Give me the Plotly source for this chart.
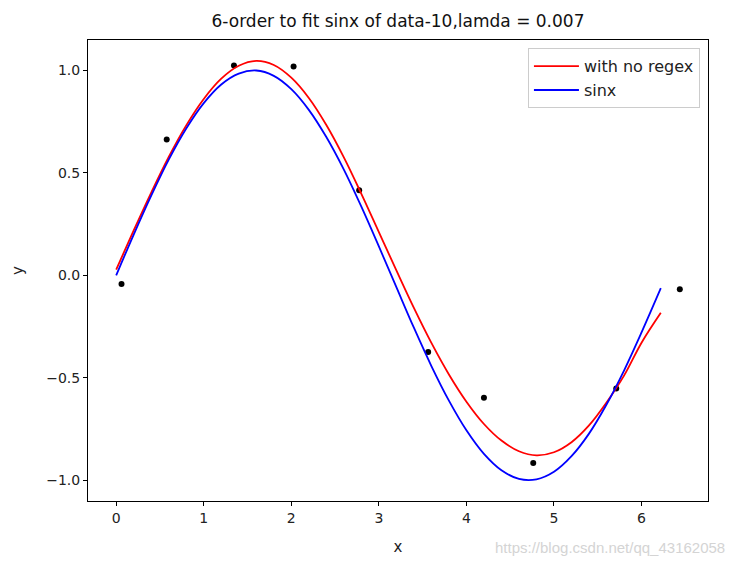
import plotly.graph_objects as go

# Curve sample positions
curve_x = [0.0, 0.2, 0.4, 0.6, 0.8, 1.0, 1.2, 1.4, 1.6, 1.8, 2.0, 2.2, 2.4, 2.6,
           2.8, 3.0, 3.2, 3.4, 3.6, 3.8, 4.0, 4.2, 4.4, 4.6, 4.8, 5.0, 5.2, 5.4,
           5.6, 5.8, 6.0, 6.22]
# red fitted curve ("with no regex")
fit_y = [0.028, 0.219, 0.404, 0.578, 0.732, 0.861, 0.960, 1.023, 1.047, 1.027,
         0.965, 0.866, 0.734, 0.576, 0.398, 0.211, 0.024, -0.159, -0.330, -0.484,
         -0.617, -0.726, -0.807, -0.859, -0.879, -0.864, -0.815, -0.733, -0.621,
         -0.490, -0.329, -0.183]
# blue curve ("sinx")
sin_y = [0.000, 0.199, 0.389, 0.565, 0.717, 0.841, 0.932, 0.985, 1.000, 0.974,
         0.909, 0.808, 0.675, 0.516, 0.335, 0.141, -0.058, -0.256, -0.443, -0.612,
         -0.757, -0.872, -0.952, -0.994, -0.996, -0.959, -0.883, -0.773, -0.631,
         -0.465, -0.279, -0.063]
# noisy sample points
data_x = [0.061, 0.577, 1.345, 2.026, 2.775, 3.563, 4.200, 4.763, 5.711, 6.437]
data_y = [-0.042, 0.663, 1.024, 1.020, 0.415, -0.374, -0.598, -0.917, -0.553, -0.068]

x_ticks = [0, 1, 2, 3, 4, 5, 6]
y_ticks = [-1.0, -0.5, 0.0, 0.5, 1.0]

font_family = "DejaVu Sans, sans-serif"

fig = go.Figure()
fig.add_trace(go.Scatter(x=data_x, y=data_y, mode="markers",
                         marker=dict(color="black", size=6),
                         showlegend=False))
fig.add_trace(go.Scatter(x=curve_x, y=fit_y, mode="lines", name="with no regex",
                         line=dict(color="red", width=1.8, shape="spline")))
fig.add_trace(go.Scatter(x=curve_x, y=sin_y, mode="lines", name="sinx",
                         line=dict(color="blue", width=1.8, shape="spline")))

fig.update_layout(
    width=735, height=564,
    margin=dict(l=88, r=27, t=40, b=63),
    paper_bgcolor="white", plot_bgcolor="white",
    font=dict(family=font_family, size=14, color="#222222"),
    title=dict(text="6-order to fit sinx of data-10,lamda = 0.007",
               x=0.5, xanchor="center", xref="paper",
               y=0.962, yanchor="middle",
               font=dict(size=17, color="#111111")),
    legend=dict(x=0.987, y=0.982, xanchor="right", yanchor="top",
                bgcolor="rgba(255,255,255,0.8)", bordercolor="#cccccc",
                borderwidth=1, font=dict(size=16, color="#222222"),
                itemwidth=45, tracegroupgap=4),
    xaxis=dict(range=[-0.322, 6.759], tickmode="array", tickvals=x_ticks,
               ticktext=[str(v) for v in x_ticks],
               showgrid=False, zeroline=False, showline=True, mirror=True,
               linecolor="black", linewidth=1, ticks="outside", ticklen=4,
               tickcolor="black",
               title=dict(text="x", font=dict(size=15), standoff=16)),
    yaxis=dict(range=[-1.102, 1.149], tickmode="array", tickvals=y_ticks,
               ticktext=["\u22121.0", "\u22120.5", "0.0", "0.5", "1.0"],
               showgrid=False, zeroline=False, showline=True, mirror=True,
               linecolor="black", linewidth=1, ticks="outside", ticklen=4,
               tickcolor="black",
               title=dict(text="y", font=dict(size=15), standoff=18)),
)

fig.add_annotation(text="https://blog.csdn.net/qq_43162058",
                   xref="paper", yref="paper", x=1.03, y=-0.1,
                   xanchor="right", yanchor="middle", showarrow=False,
                   font=dict(family="Liberation Sans Narrow, Liberation Sans, sans-serif",
                             size=15, color="#d4d4d4"))

fig.write_html("out.html")
